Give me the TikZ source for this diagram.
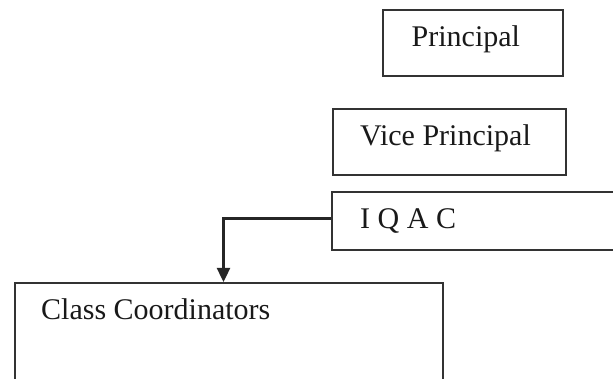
\documentclass[tikz,border=0pt]{standalone}
\usepackage{fontspec}
\setmainfont{Liberation Serif}
\usetikzlibrary{arrows.meta}
\begin{document}
\begin{tikzpicture}[x=1pt,y=-1pt,
  box/.style={draw=black!80,line width=1.8pt,rectangle,inner sep=0pt,anchor=north west},
  lbl/.style={anchor=base west,inner sep=0pt,font=\fontsize{30}{36}\selectfont,text=black!90},
  conn/.style={draw=black!85,line width=2.4pt}]
\useasboundingbox (0,0) rectangle (613,379);
\node[box,minimum width=180pt,minimum height=66pt] (principal) at (382,9) {};
\node[lbl] (tprincipal) at (411.5,47) {Principal};
\node[box,minimum width=233pt,minimum height=66pt] (vice) at (332,108) {};
\node[lbl] (tvice) at (360,145.5) {Vice Principal};
\node[box,minimum width=320pt,minimum height=58pt] (iqac) at (331,191) {};
\node[lbl] (tiqac) at (360,229) {I Q A C};
\node[box,minimum width=428pt,minimum height=130pt] (class) at (14,282) {};
\node[lbl] (tclass) at (41,319.5) {Class Coordinators};
\coordinate (bend) at (223.5,218.5);
\draw[conn,-{Triangle[length=14pt,width=13pt]}] (iqac.west |- bend) -- (bend) -- (bend |- class.north);
\end{tikzpicture}
\end{document}
